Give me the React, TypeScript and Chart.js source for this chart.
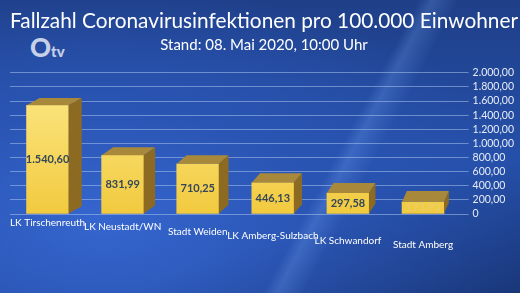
import React, { useEffect, useRef } from "react";
import { Chart, registerables } from "chart.js";

Chart.register(...registerables);

const categories = [
  "LK Tirschenreuth",
  "LK Neustadt/WN",
  "Stadt Weiden",
  "LK Amberg-Sulzbach",
  "LK Schwandorf",
  "Stadt Amberg",
];
const values = [1540.6, 831.99, 710.25, 446.13, 297.58, 173.93];
const yMin = 0;
const yMax = 2000;
const yStep = 200;
const titleText = "Fallzahl Coronavirusinfektionen pro 100.000 Einwohner";
const subtitleText = "Stand: 08. Mai 2020, 10:00 Uhr";

const FONT = "Lato, 'Open Sans', sans-serif";

function fmtDe(v: number): string {
  const fixed = v.toFixed(2);
  const [intPart, dec] = fixed.split(".");
  const withDots = intPart.replace(/\B(?=(\d{3})+(?!\d))/g, ".");
  return withDots + "," + dec;
}

const bar3d = {
  id: "bar3d",
  afterDatasetsDraw(chart: any) {
    const ctx = chart.ctx;
    const meta = chart.getDatasetMeta(0);
    const area = chart.chartArea;
    const xScale = chart.scales.x;
    meta.data.forEach((el: any, i: number) => {
      const p = el.getProps(["x", "y", "base", "width"], true);
      const left = p.x - p.width / 2;
      const right = p.x + p.width / 2;
      const t = (p.x - area.left) / (area.right - area.left);
      const dx = 14 - 10 * t;
      const dy = 7 + 4 * t;
      ctx.save();
      // side face
      ctx.beginPath();
      ctx.moveTo(right, p.y);
      ctx.lineTo(right + dx, p.y - dy);
      ctx.lineTo(right + dx, p.base - dy);
      ctx.lineTo(right, p.base);
      ctx.closePath();
      ctx.fillStyle = "#8c6a22";
      ctx.fill();
      // top face
      ctx.beginPath();
      ctx.moveTo(left, p.y);
      ctx.lineTo(left + dx, p.y - dy);
      ctx.lineTo(right + dx, p.y - dy);
      ctx.lineTo(right, p.y);
      ctx.closePath();
      ctx.fillStyle = "#a8883a";
      ctx.fill();
      // value label
      ctx.font = `bold 11px ${FONT}`;
      ctx.textAlign = "center";
      ctx.textBaseline = "middle";
      ctx.fillStyle = i === values.length - 1 ? "#e9cf6a" : "#34465a";
      ctx.fillText(fmtDe(values[i]), p.x, (p.y + p.base) / 2);
      // category label, staggered like the perspective view
      ctx.font = `10px ${FONT}`;
      ctx.fillStyle = "#ffffff";
      const lx = xScale.getPixelForValue(i);
      ctx.fillText(categories[i], lx, p.base + 9 + i * 4.5);
      ctx.restore();
    });
  },
};

export default function App() {
  const ref = useRef<HTMLCanvasElement | null>(null);
  useEffect(() => {
    if (!ref.current) return;
    const ctx = ref.current.getContext("2d")!;
    const grad = ctx.createLinearGradient(0, 100, 0, 230);
    grad.addColorStop(0, "#fbe47c");
    grad.addColorStop(1, "#f0c636");
    const chart = new Chart(ref.current, {
      type: "bar",
      data: {
        labels: categories,
        datasets: [
          {
            data: values,
            backgroundColor: grad,
            borderWidth: 0,
            barThickness: 42,
          },
        ],
      },
      plugins: [bar3d],
      options: {
        animation: false,
        responsive: false,
        layout: { padding: { left: 10, right: 2, top: 0, bottom: 79 } },
        plugins: {
          legend: { display: false },
          tooltip: { enabled: false },
          title: {
            display: true,
            text: titleText,
            color: "#ffffff",
            font: { family: FONT, size: 21.5, weight: "normal" },
            padding: { top: 8, bottom: 0 },
          },
          subtitle: {
            display: true,
            text: subtitleText,
            color: "#ffffff",
            font: { family: FONT, size: 15, weight: "normal" },
            padding: { top: 2, bottom: 19 },
          },
        },
        scales: {
          x: {
            grid: { display: false, drawTicks: false },
            border: { display: false },
            ticks: { display: false },
          },
          y: {
            position: "right",
            min: yMin,
            max: yMax,
            border: { display: false },
            grid: {
              color: "rgba(170,195,235,0.55)",
              lineWidth: 1,
              drawTicks: true,
              tickLength: 8,
            },
            ticks: {
              stepSize: yStep,
              autoSkip: false,
              color: "#e6ecf7",
              font: { family: FONT, size: 10.5 },
              padding: 4,
              callback: (v: any) => (Number(v) === 0 ? "0" : fmtDe(Number(v))),
            },
          },
        },
      },
    });
    return () => chart.destroy();
  }, []);

  return (
    <div
      style={{
        position: "fixed",
        left: 0,
        top: 0,
        width: 520,
        height: 293,
        overflow: "hidden",
        background:
          "linear-gradient(118deg, transparent 0%, transparent 62%, rgba(130,180,255,0.22) 64%, transparent 68%), linear-gradient(160deg, transparent 0%, transparent 70%, rgba(0,0,0,0.15) 100%), radial-gradient(ellipse at 20% 75%, #3566cf 0%, #2a55b4 35%, rgba(33,70,150,0) 75%), linear-gradient(180deg, #1f3f88 0%, #2550aa 55%, #1d3f8c 100%)",
      }}
    >
      <div
        style={{
          position: "absolute",
          left: 30,
          top: 34,
          color: "#c6d1e8",
          fontFamily: FONT,
          fontWeight: 900,
          lineHeight: 1,
          whiteSpace: "nowrap",
        }}
      >
        <span style={{ fontSize: 26 }}>O</span>
        <span style={{ fontSize: 15 }}>tv</span>
      </div>
      <canvas
        ref={ref}
        width={520}
        height={293}
        style={{ position: "absolute", left: 0, top: 0 }}
      />
    </div>
  );
}
